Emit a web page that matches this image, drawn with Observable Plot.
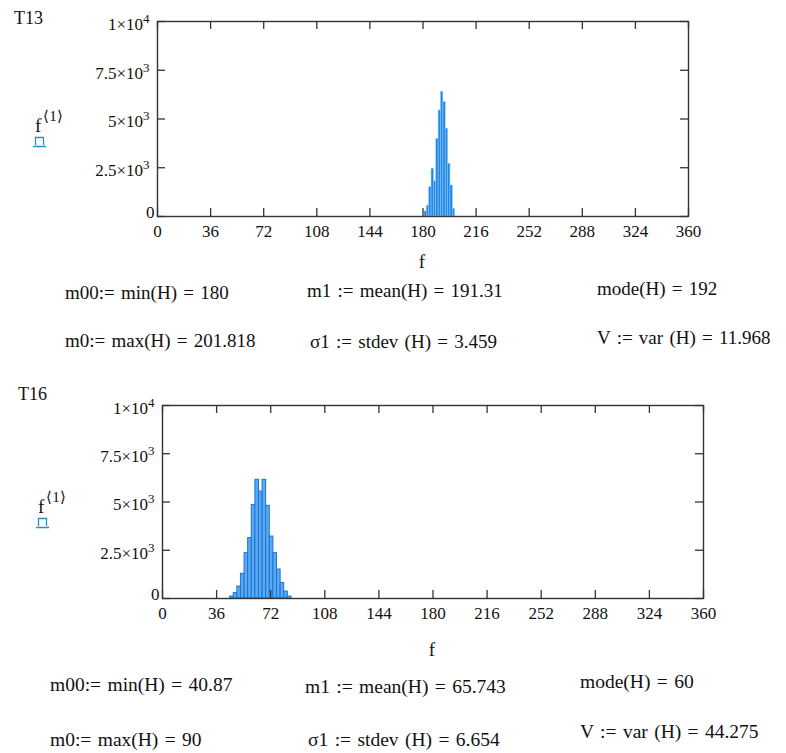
<!DOCTYPE html>
<html><head><meta charset="utf-8">
<script src="https://cdn.jsdelivr.net/npm/d3@7"></script>
<script src="https://cdn.jsdelivr.net/npm/@observablehq/plot@0.6"></script>
<style>
body{margin:0;background:#fff;}
#root{position:relative;width:786px;height:753px;font-family:"Liberation Serif","Times New Roman",serif;color:#111;overflow:hidden;background:#fff}
.t{position:absolute;white-space:nowrap;line-height:1;}
.chart{position:absolute;left:0;}
</style></head><body><div id="root"></div>
<script>
// ---- data ----
const xTicks = [0, 36, 72, 108, 144, 180, 216, 252, 288, 324, 360];
const yTicks = [0, 2500, 5000, 7500, 10000];
const yTickLabels = ["0", "2.5×10^3", "5×10^3", "7.5×10^3", "1×10^4"];

const t13BinStart = [181.0, 182.6, 184.2, 185.8, 187.4, 189.0, 190.6, 192.2, 193.8, 195.4, 197.0, 198.6, 200.2];
const t13BinWidth = 1.6;
const t13Counts = [260, 560, 1500, 2450, 1800, 3980, 5440, 6400, 5860, 4500, 2700, 1590, 390];

const t16BinStart = [45.0, 47.4, 49.8, 52.2, 54.6, 57.0, 59.4, 61.8, 64.2, 66.6, 69.0, 71.4, 73.8, 76.2, 78.6, 81.0, 83.4];
const t16BinWidth = 2.4;
const t16Counts = [100, 280, 620, 1280, 2350, 3130, 4850, 6150, 5540, 6150, 4800, 3210, 2350, 1500, 800, 360, 100];

const titles = ["T13", "T16"];
const axisName = "f";
const t13Stats = ["m00:= min(H) = 180", "m1 := mean(H) = 191.31", "mode(H) = 192",
                  "m0:= max(H) = 201.818", "σ1 := stdev (H) = 3.459", "V := var (H) = 11.968"];
const t16Stats = ["m00:= min(H) = 40.87", "m1 := mean(H) = 65.743", "mode(H) = 60",
                  "m0:= max(H) = 90", "σ1 := stdev (H) = 6.654", "V := var (H) = 44.275"];

// ---- drawing ----
const root = document.getElementById("root");
const AX = "#333";
const nonZeroTicks = yTicks.filter(d => d !== 0);

function makeHist(starts, w, counts, m, st) {
  const rows = starts.map((s, i) => ({lo: s, hi: s + w, n: counts[i]}));
  const fmt = d => yTickLabels[yTicks.indexOf(d)];
  const svg = Plot.plot({
    width: 786, height: m.h,
    marginLeft: m.l, marginRight: m.r, marginTop: m.t, marginBottom: m.b,
    style: {fontFamily: "'Liberation Serif', 'Times New Roman', serif", fontSize: "17px", color: "#111", background: "none", overflow: "visible"},
    x: {domain: [0, 360]},
    y: {domain: [0, 10000]},
    marks: [
      Plot.rect(rows, {x1: "lo", x2: "hi", y1: 0, y2: "n", fill: st.fill, stroke: st.stroke, strokeWidth: st.sw}),
      Plot.ruleX(xTicks, {x: d => d, y1: 0, y2: 0, insetTop: -8, stroke: AX, strokeWidth: 1.3}),
      Plot.ruleX(xTicks, {x: d => d, y1: 10000, y2: 10000, insetBottom: -8, stroke: AX, strokeWidth: 1.3}),
      Plot.ruleY(yTicks, {y: d => d, x1: 0, x2: 0, insetRight: -8, stroke: AX, strokeWidth: 1.3}),
      Plot.ruleY(yTicks, {y: d => d, x1: 360, x2: 360, insetLeft: -8, stroke: AX, strokeWidth: 1.3}),
      Plot.frame({stroke: AX, strokeWidth: 1.4}),
      Plot.axisX({ticks: xTicks, tickSize: 0, tickPadding: 8, tickFormat: d => String(d), label: null}),
      Plot.axisY({ticks: nonZeroTicks, tickSize: 0, tickPadding: 8, dy: 3, tickFormat: fmt, label: null}),
      Plot.axisY({ticks: [0], tickSize: 0, tickPadding: 3, dy: -4, tickFormat: fmt, label: null})
    ]
  });
  // superscripts for powers of ten
  svg.querySelectorAll('g[aria-label="y-axis tick label"] text').forEach(t => {
    const s = t.textContent;
    if (s.includes("^")) {
      const [base, exp] = s.split("^");
      t.textContent = "";
      const a = document.createElementNS("http://www.w3.org/2000/svg", "tspan");
      a.textContent = base;
      const b = document.createElementNS("http://www.w3.org/2000/svg", "tspan");
      b.textContent = exp;
      b.setAttribute("dy", "-0.55em");
      b.setAttribute("font-size", "13px");
      t.appendChild(a); t.appendChild(b);
    }
  });
  svg.classList.add("chart");
  svg.style.top = m.top + "px";
  root.appendChild(svg);
}

function text(str, x, cy, size, extra) {
  const d = document.createElement("div");
  d.className = "t";
  d.textContent = str;
  d.style.left = x + "px";
  d.style.top = (cy - size * 0.55) + "px";
  d.style.fontSize = size + "px";
  if (extra) Object.assign(d.style, extra);
  root.appendChild(d);
  return d;
}

function fLabel(x, cy) {
  const d = document.createElement("div");
  d.className = "t";
  d.style.left = x + "px";
  d.style.top = (cy - 10) + "px";
  d.style.fontSize = "19px";
  d.innerHTML = axisName + '<span style="position:relative;top:-11px;font-size:15px;margin-left:2px">⟨1⟩</span>';
  root.appendChild(d);
  const s = document.createElementNS("http://www.w3.org/2000/svg", "svg");
  s.setAttribute("width", "16"); s.setAttribute("height", "14");
  s.style.position = "absolute"; s.style.left = (x - 3) + "px"; s.style.top = (cy + 8) + "px";
  s.innerHTML = '<path d="M3.5,11V3.5H11.5V11 M1,12.5H14" fill="none" stroke="#2b8fc4" stroke-width="1.3"/>';
  root.appendChild(s);
}

// T13 chart: frame x 157..688, y 21..216
makeHist(t13BinStart, t13BinWidth, t13Counts, {top: 0, h: 250, l: 157, r: 98, t: 21, b: 34},
  {fill: "#1f87e6", stroke: "#8cc6f7", sw: 0.6});
// T16 chart: frame x 162..703, y 405..598
makeHist(t16BinStart, t16BinWidth, t16Counts, {top: 384, h: 250, l: 162, r: 83, t: 21, b: 36},
  {fill: "#5aaaf0", stroke: "#1c72da", sw: 1});

text(titles[0], 14, 19, 18);
text(titles[1], 18, 395, 18);
fLabel(35, 126);
fLabel(38, 507);

text(axisName, 422, 262, 19, {transform: "translateX(-50%)"});
text(axisName, 432, 650, 19, {transform: "translateX(-50%)"});

const statStyle = {wordSpacing: "1.5px"};
const pos1 = [[65, 293], [307, 291], [597, 289], [65, 341], [310, 342], [597, 338]];
const pos2 = [[50, 686], [305, 688], [580, 683], [50, 741], [308, 741], [580, 733]];
t13Stats.forEach((s, i) => text(s, pos1[i][0], pos1[i][1], 19, statStyle));
t16Stats.forEach((s, i) => text(s, pos2[i][0], pos2[i][1], 19.5, statStyle));
</script></body></html>
